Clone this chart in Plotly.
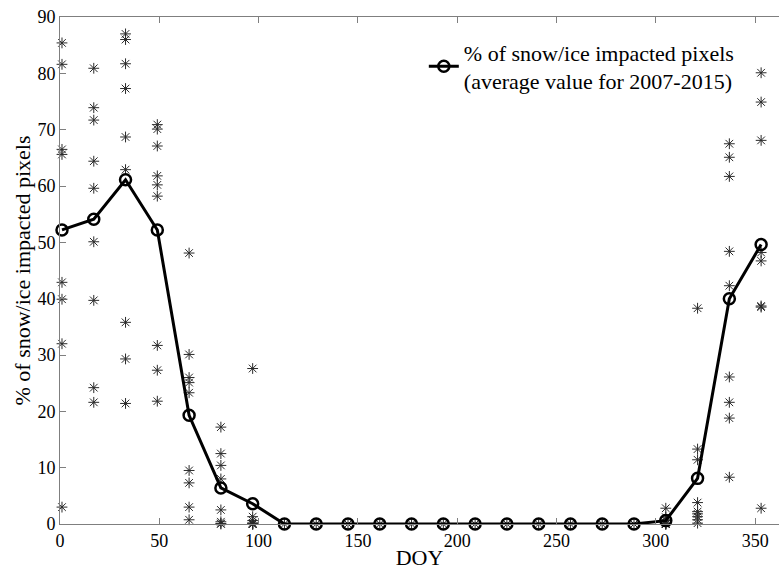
import plotly.graph_objects as go

# Day of year of each 16-day composite
doy = [1, 17, 33, 49, 65, 81, 97, 113, 129, 145, 161, 177, 193, 209, 225,
       241, 257, 273, 289, 305, 321, 337, 353]

# Average % of snow/ice impacted pixels (2007-2015)
mean_pct = [52.2, 54.1, 61.1, 52.2, 19.3, 6.4, 3.6, 0, 0, 0, 0, 0, 0, 0, 0,
            0, 0, 0, 0, 0.6, 8.1, 40.0, 49.6]

# Individual-year values per composite
year_vals = {
    1:   [85.4, 81.6, 66.5, 65.6, 42.9, 39.9, 32.0, 3.0],
    17:  [80.9, 73.9, 71.7, 64.4, 59.6, 50.1, 39.7, 24.2, 21.6],
    33:  [87.0, 86.0, 81.7, 77.3, 68.7, 62.9, 35.8, 29.3, 21.4],
    49:  [70.9, 70.1, 67.1, 61.8, 60.2, 58.2, 31.7, 27.3, 21.8],
    65:  [48.1, 30.1, 26.0, 25.1, 23.3, 9.5, 7.3, 3.0, 0.75],
    81:  [17.2, 12.5, 10.4, 8.0, 2.5, 0.4, 0.1, 0.0],
    97:  [27.6, 1.3, 0.6, 0.2, 0.0, 0.0, 0.0, 0.0],
    113: [0.0], 129: [0.0], 145: [0.0], 161: [0.0], 177: [0.0], 193: [0.0],
    209: [0.0], 225: [0.0], 241: [0.0], 257: [0.0], 273: [0.0], 289: [0.0],
    305: [2.8, 1.2, 0.6, 0.2, 0.0, 0.0, 0.0, 0.0],
    321: [38.3, 13.3, 11.4, 3.8, 2.2, 1.8, 1.3, 0.75, 0.15],
    337: [67.5, 65.1, 61.7, 48.4, 42.3, 26.1, 21.6, 18.8, 8.3],
    353: [80.1, 74.9, 68.1, 48.2, 46.7, 38.7, 38.5, 2.8],
}

x_ticks = [0, 50, 100, 150, 200, 250, 300, 350]
y_ticks = [0, 10, 20, 30, 40, 50, 60, 70, 80, 90]

FONT = "Liberation Serif, Times New Roman, serif"

star_x, star_y = [], []
for d, vals in year_vals.items():
    for v in vals:
        star_x.append(d)
        star_y.append(v)

fig = go.Figure()
fig.add_trace(go.Scatter(
    x=star_x, y=star_y, mode="markers", showlegend=False,
    marker=dict(symbol="asterisk-open", size=9, color="#2a2a2a",
                line=dict(color="#2a2a2a", width=1)),
    cliponaxis=False,
))
fig.add_trace(go.Scatter(
    x=doy, y=mean_pct, mode="lines+markers",
    name="% of snow/ice impacted pixels<br>(average value for 2007-2015)",
    line=dict(color="black", width=3),
    marker=dict(symbol="circle-open", size=11, color="black",
                line=dict(color="black", width=2.5)),
    cliponaxis=False,
))

axis_common = dict(
    showgrid=False, zeroline=False, showline=True, linecolor="#7f7f7f",
    linewidth=1, ticks="inside", ticklen=6, tickcolor="#7f7f7f",
    tickfont=dict(family=FONT, size=18, color="black"),
    automargin=False,
)

fig.update_xaxes(range=[0, 362], tickvals=x_ticks, mirror="ticks",
                 title=dict(text="DOY", font=dict(family=FONT, size=22, color="black"),
                            standoff=0),
                 **axis_common)
fig.update_yaxes(range=[0, 90], tickvals=y_ticks, mirror=False,
                 title=dict(text="% of snow/ice impacted pixels",
                            font=dict(family=FONT, size=22, color="black"),
                            standoff=0),
                 **axis_common)

fig.update_layout(
    width=779, height=573,
    margin=dict(l=60, r=0, t=17, b=49),
    paper_bgcolor="white", plot_bgcolor="white",
    font=dict(family=FONT, color="black"),
    legend=dict(x=0.506, y=0.972, xanchor="left", yanchor="top",
                bgcolor="rgba(0,0,0,0)", borderwidth=0,
                font=dict(family=FONT, size=22, color="black")),
)

fig.write_html(
    "out.html",
    config={"displayModeBar": False},
    post_script="document.body.style.margin='0';document.body.style.overflow='hidden';",
)
